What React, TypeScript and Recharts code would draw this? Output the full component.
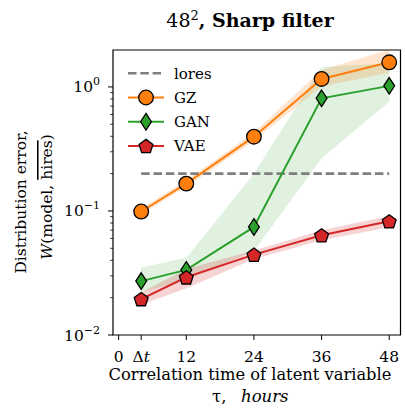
import React from 'react'
import { Area, ComposedChart, Line, ReferenceArea, XAxis, YAxis } from 'recharts'

// correlation time of the latent variable, hours (first point is Δt)
const hours = [4, 12, 24, 36, 48]
const xTicks = [0, 4, 12, 24, 36, 48]
const xTickLabels = ['0', 'Δt', '12', '24', '36', '48']

// distribution error per model, with spread bands
const gz = [0.099, 0.166, 0.397, 1.16, 1.58]
const gzLow = [0.094, 0.156, 0.368, 1.01, 1.3]
const gzHigh = [0.105, 0.177, 0.43, 1.37, 2.0]

const gan = [0.0272, 0.0335, 0.0743, 0.81, 1.02]
const ganLow = [0.022, 0.028, 0.0475, 0.266, 0.76]
const ganHigh = [0.035, 0.042, 0.2, 1.45, 1.55]

const vae = [0.0195, 0.0292, 0.0445, 0.0637, 0.0826]
const vaeLow = [0.0175, 0.0238, 0.041, 0.058, 0.074]
const vaeHigh = [0.022, 0.034, 0.048, 0.07, 0.091]

const lores = [0.2, 0.2, 0.2, 0.2, 0.2]

const yMajor = [0.01, 0.1, 1]
const yMinor = [0.01, 0.1].flatMap((d) => [2, 3, 4, 5, 6, 7, 8, 9].map((m) => +(d * m).toFixed(3)))
const yTicks = [...yMajor, ...yMinor].sort((a, b) => a - b)

const data = hours.map((hour, i) => ({
    hour,
    gz: gz[i],
    gzBand: [gzLow[i], gzHigh[i]],
    gan: gan[i],
    ganBand: [ganLow[i], ganHigh[i]],
    vae: vae[i],
    vaeBand: [vaeLow[i], vaeHigh[i]],
    lores: lores[i],
}))

const WIDTH = 405
const HEIGHT = 410
const FONT = '"DejaVu Serif", serif'
const COLORS = { gz: '#ff7f0e', gan: '#2ca02c', vae: '#d62728', lores: '#7f7f7f' }

type MarkProps = { cx: number; cy: number; color: string }

const CircleMark = ({ cx, cy, color }: MarkProps) => (
    <circle cx={cx} cy={cy} r={7.3} fill={color} stroke="#000" strokeWidth={1.3} />
)

const DiamondMark = ({ cx, cy, color }: MarkProps) => (
    <polygon
        points={`${cx},${cy - 8.3} ${cx + 5.4},${cy} ${cx},${cy + 8.3} ${cx - 5.4},${cy}`}
        fill={color}
        stroke="#000"
        strokeWidth={1.3}
        strokeLinejoin="miter"
    />
)

const PentagonMark = ({ cx, cy, color }: MarkProps) => {
    const r = 7.3
    const pts = [0, 1, 2, 3, 4]
        .map((k) => {
            const a = ((-90 + 72 * k) * Math.PI) / 180
            return `${cx + r * Math.cos(a)},${cy + r * Math.sin(a) + 0.8}`
        })
        .join(' ')
    return <polygon points={pts} fill={color} stroke="#000" strokeWidth={1.3} />
}

const XTick = (props: any) => {
    const { x, y, payload } = props
    const label = xTickLabels[xTicks.indexOf(payload.value)]
    return (
        <g>
            <line x1={x} x2={x} y1={y} y2={y + 5} stroke="#000" strokeWidth={1} />
            <text x={x} y={y + 27} textAnchor="middle" fontSize={15.5} fontFamily={FONT} fill="#000">
                {label === 'Δt' ? (
                    <>
                        Δ<tspan fontStyle="italic">t</tspan>
                    </>
                ) : (
                    label
                )}
            </text>
        </g>
    )
}

const YTick = (props: any) => {
    const { x, y, payload } = props
    const v = payload.value
    const major = yMajor.includes(v)
    const exp = Math.round(Math.log10(v))
    return (
        <g>
            <line x1={x} x2={x - (major ? 5 : 2.8)} y1={y} y2={y} stroke="#000" strokeWidth={major ? 1 : 0.8} />
            {major && (
                <text x={x - 13} y={y + 5.5} textAnchor="end" fontSize={15.5} fontFamily={FONT} fill="#000">
                    10
                    <tspan dy={-7} fontSize={11}>
                        {exp < 0 ? `−${-exp}` : `${exp}`}
                    </tspan>
                </text>
            )}
        </g>
    )
}

const legendItems = [
    { name: 'lores', color: COLORS.lores, mark: null, dashed: true },
    { name: 'GZ', color: COLORS.gz, mark: CircleMark, dashed: false },
    { name: 'GAN', color: COLORS.gan, mark: DiamondMark, dashed: false },
    { name: 'VAE', color: COLORS.vae, mark: PentagonMark, dashed: false },
]

const Overlay = () => (
    <svg
        width={WIDTH}
        height={HEIGHT}
        style={{ position: 'absolute', left: 0, top: 0, pointerEvents: 'none' }}
        fontFamily={FONT}
        fill="#000"
    >
        <text x={250} y={27} textAnchor="middle" fontSize={19}>
            48
            <tspan dy={-7.5} fontSize={13}>
                2
            </tspan>
            <tspan dy={7.5} fontWeight="bold">
                , Sharp filter
            </tspan>
        </text>

        <text x={250} y={380} textAnchor="middle" fontSize={16.3}>
            Correlation time of latent variable
        </text>
        <text y={402} fontSize={16.5}>
            <tspan x={212}>τ,</tspan>
            <tspan x={241} fontStyle="italic">
                hours
            </tspan>
        </text>

        <text transform="translate(26,202) rotate(-90)" textAnchor="middle" fontSize={15.5}>
            Distribution error,
        </text>
        <text transform="translate(52,197) rotate(-90)" textAnchor="middle" fontSize={15.5}>
            <tspan fontStyle="italic">W</tspan>(model,{' '}
            <tspan style={{ textDecoration: 'overline' }}>hires</tspan>)
        </text>

        {legendItems.map((item, i) => {
            const y = 73.3 + i * 24.2
            const Mark = item.mark
            return (
                <g key={item.name}>
                    <line
                        x1={128}
                        x2={164}
                        y1={y}
                        y2={y}
                        stroke={item.color}
                        strokeWidth={item.dashed ? 2.6 : 2}
                        strokeDasharray={item.dashed ? '8.5 3.8' : undefined}
                    />
                    {Mark && <Mark cx={146} cy={y} color={item.color} />}
                    <text x={174} y={y + 5.2} fontSize={15}>
                        {item.name}
                    </text>
                </g>
            )
        })}
    </svg>
)

export default function App() {
    return (
        <div style={{ position: 'absolute', left: 0, top: 0, width: WIDTH, height: HEIGHT, background: '#fff' }}>
            <ComposedChart width={WIDTH} height={HEIGHT} data={data} margin={{ top: 50, right: 4.5, left: 0, bottom: 0 }}>
                <XAxis
                    type="number"
                    dataKey="hour"
                    domain={[-1, 50]}
                    ticks={xTicks}
                    interval={0}
                    tick={<XTick />}
                    tickLine={false}
                    axisLine={false}
                    tickSize={0}
                    tickMargin={0}
                    height={75}
                    allowDataOverflow
                />
                <YAxis
                    type="number"
                    scale="log"
                    domain={[0.01, 1.985]}
                    ticks={yTicks}
                    interval={0}
                    tick={<YTick />}
                    tickLine={false}
                    axisLine={false}
                    tickSize={0}
                    tickMargin={0}
                    width={113}
                    allowDataOverflow
                />

                <Area dataKey="ganBand" stroke="none" fill={COLORS.gan} fillOpacity={0.15} dot={false} activeDot={false} isAnimationActive={false} />
                <Area dataKey="gzBand" stroke="none" fill={COLORS.gz} fillOpacity={0.2} dot={false} activeDot={false} isAnimationActive={false} />
                <Area dataKey="vaeBand" stroke="none" fill={COLORS.vae} fillOpacity={0.2} dot={false} activeDot={false} isAnimationActive={false} />

                <Line dataKey="lores" stroke={COLORS.lores} strokeWidth={2.6} strokeDasharray="8.5 3.8" dot={false} activeDot={false} isAnimationActive={false} />
                <Line
                    dataKey="gz"
                    stroke={COLORS.gz}
                    strokeWidth={2}
                    activeDot={false}
                    isAnimationActive={false}
                    dot={(p: any) => <CircleMark key={`gz-${p.index}`} cx={p.cx} cy={p.cy} color={COLORS.gz} />}
                />
                <Line
                    dataKey="gan"
                    stroke={COLORS.gan}
                    strokeWidth={2}
                    activeDot={false}
                    isAnimationActive={false}
                    dot={(p: any) => <DiamondMark key={`gan-${p.index}`} cx={p.cx} cy={p.cy} color={COLORS.gan} />}
                />
                <Line
                    dataKey="vae"
                    stroke={COLORS.vae}
                    strokeWidth={2}
                    activeDot={false}
                    isAnimationActive={false}
                    dot={(p: any) => <PentagonMark key={`vae-${p.index}`} cx={p.cx} cy={p.cy} color={COLORS.vae} />}
                />

                <ReferenceArea x1={-1} x2={50} y1={0.01} y2={1.985} fill="none" stroke="#000" strokeWidth={1.2} ifOverflow="visible" />
            </ComposedChart>
            <Overlay />
        </div>
    )
}
